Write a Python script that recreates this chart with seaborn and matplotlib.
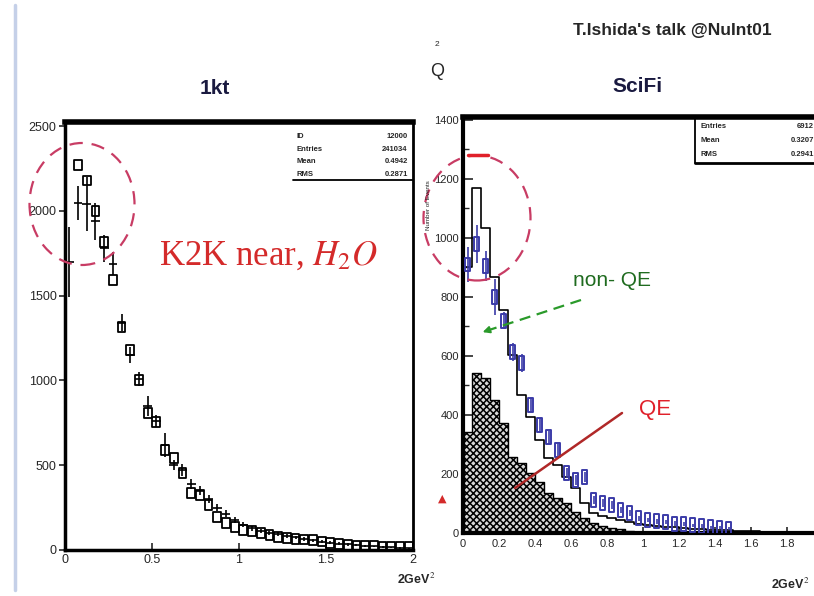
import numpy as np
import pandas as pd
import matplotlib
matplotlib.use("Agg")
import matplotlib.pyplot as plt
from matplotlib.patches import Ellipse
from matplotlib.lines import Line2D
from matplotlib.path import Path
import seaborn as sns

sns.set_theme(style="ticks")
plt.rcParams["font.family"] = ["Liberation Sans", "DejaVu Sans"]
plt.rcParams["mathtext.fontset"] = "stix"
plt.rcParams["hatch.linewidth"] = 1.1

# ---------------- 1kt water Cherenkov (left) ----------------
q2_1kt = [0.025, 0.075, 0.125, 0.175, 0.225, 0.275, 0.325, 0.375, 0.425, 0.475,
          0.525, 0.575, 0.625, 0.675, 0.725, 0.775, 0.825, 0.875, 0.925, 0.975,
          1.025, 1.075, 1.125, 1.175, 1.225, 1.275, 1.325, 1.375, 1.425, 1.475,
          1.525, 1.575, 1.625, 1.675, 1.725, 1.775, 1.825, 1.875, 1.925, 1.975]
mc_1kt = [np.nan, 2270, 2180, 2000, 1816, 1592, 1315, 1180, 1002, 808,
          755, 590, 542, 454, 336, 324, 265, 195, 160, 136,
          118, 110, 100, 90, 77, 72, 66, 62, 59, 50,
          42, 36, 29, 26, 24, 22, 20, 19, 18, 16]
data_1kt = [1700, 2046, 2040, 1940, 1780, 1690, 1340, 1150, 1010, 850,
            760, 620, 500, 470, 390, 350, 300, 250, 215, 175,
            150, 128, 112, 100, 92, 82, 74, 66, 58, 50,
            44, 38, 33, 28, 24, 21, 18, 15, 12, 10]
err_1kt = [205, 100, 160, 110, 80, 70, 50, 45, 40, 60,
           35, 70, 30, 35, 30, 25, 22, 20, 20, 18,
           16, 15, 14, 13, 12, 11, 10, 10, 9, 8,
           8, 7, 7, 6, 6, 5, 5, 5, 4, 4]
stats_1kt = [("ID", "12000"), ("Entries", "241034"), ("Mean", "0.4942"), ("RMS", "0.2871")]

# ---------------- SciFi (right) ----------------
q2_scifi = [0.025, 0.075, 0.125, 0.175, 0.225, 0.275, 0.325, 0.375, 0.425, 0.475,
            0.525, 0.575, 0.625, 0.675, 0.725, 0.775, 0.825, 0.875, 0.925, 0.975,
            1.025, 1.075, 1.125, 1.175, 1.225, 1.275, 1.325, 1.375, 1.425, 1.475,
            1.525, 1.575, 1.625, 1.675, 1.725, 1.775, 1.825, 1.875, 1.925, 1.975]
total_mc = [900, 1170, 1034, 868, 756, 603, 468, 393, 315, 254,
            230, 190, 152, 100, 68, 58, 50, 44, 38, 32,
            28, 25, 22, 19, 17, 15, 13, 11, 10, 9,
            8, 7, 6, 5, 5, 4, 4, 3, 3, 2]
qe_mc = [342, 542, 525, 450, 373, 258, 237, 205, 173, 136,
         120, 102, 71, 51, 34, 25, 18, 12, 8, 5,
         3, 2, 1, 1, 0, 0, 0, 0, 0, 0,
         0, 0, 0, 0, 0, 0, 0, 0, 0, 0]
data_scifi = [910, 980, 905, 800, 720, 613, 576, 434, 366, 325,
              281, 203, 180, 190, 112, 102, 95, 78, 68, 50,
              44, 40, 36, 32, 30, 26, 24, 20, 18, 15]
err_scifi = [60, 65, 50, 60, 30, 30, 30, 25, 25, 22,
             20, 18, 18, 18, 14, 13, 12, 11, 10, 9,
             8, 8, 7, 7, 6, 6, 6, 5, 5, 5]
stats_scifi = [("Entries", "6912"), ("Mean", "0.3207"), ("RMS", "0.2941")]

W, H = 814, 596
fig = plt.figure(figsize=(W / 100, H / 100), dpi=100)
fig.patch.set_facecolor("white")


def fx(px):
    return px / W


def fy(py):
    return (H - py) / H


def rect_marker(half_w):
    return Path([(-half_w, -1), (half_w, -1), (half_w, 1), (-half_w, 1), (-half_w, -1)],
                [Path.MOVETO, Path.LINETO, Path.LINETO, Path.LINETO, Path.CLOSEPOLY])


BW = 0.05

# ---- left axes ----
axL = fig.add_axes([fx(65), fy(550), (413 - 65) / W, (550 - 122) / H])
axL.errorbar(q2_1kt, data_1kt, xerr=BW / 2, yerr=err_1kt, fmt="none",
             ecolor="black", elinewidth=1.2, capsize=0)
sns.scatterplot(x=q2_1kt, y=mc_1kt, marker=rect_marker(0.8), s=50, facecolor="none",
                edgecolor="black", linewidth=1.3, ax=axL, zorder=3)
axL.set_xlim(0, 2)
axL.set_ylim(0, 2525)
axL.set_xticks([0, 0.5, 1, 1.5, 2])
axL.set_xticklabels(["0", "0.5", "1", "1.5", "2"])
axL.set_yticks([0, 500, 1000, 1500, 2000, 2500])
axL.tick_params(axis="y", direction="out", length=4, width=1.2, labelsize=9, pad=2)
axL.tick_params(axis="x", direction="in", length=5, width=1.2, labelsize=9, pad=3)
for side, lw in [("top", 4), ("left", 2.5), ("bottom", 2.5), ("right", 2)]:
    axL.spines[side].set_linewidth(lw)
    axL.spines[side].set_color("black")
axL.set_xlabel("")
axL.set_ylabel("")
axL.add_line(Line2D([0.655, 1.0], [0.864, 0.864], transform=axL.transAxes,
                    color="black", lw=1.3))
for i, (k, v) in enumerate(stats_1kt):
    yy = 0.975 - i * 0.03
    axL.text(0.665, yy, k, transform=axL.transAxes, fontsize=5.5,
             fontweight="bold", va="top", ha="left")
    axL.text(0.985, yy, v, transform=axL.transAxes, fontsize=5.5,
             fontweight="bold", va="top", ha="right")

# ---- right axes ----
axR = fig.add_axes([fx(463), fy(533), 360 / W, (533 - 117) / H])
edges_scifi = [round(c - BW / 2, 3) for c in q2_scifi] + [round(q2_scifi[-1] + BW / 2, 3)]
df_scifi = pd.DataFrame({"q2": q2_scifi, "qe": qe_mc, "total": total_mc})
sns.histplot(data=df_scifi, x="q2", weights="qe", bins=edges_scifi, element="step",
             fill=True, color="black", alpha=1, linewidth=1.0, ax=axR)
qe_poly = axR.collections[-1]
qe_poly.set_facecolor("#d8d8d8")
qe_poly.set_edgecolor("black")
qe_poly.set_hatch("xxxxx")
sns.histplot(data=df_scifi, x="q2", weights="total", bins=edges_scifi, element="step",
             fill=False, color="black", linewidth=1.2, ax=axR)
blue = "#3b3ba8"
n_d = len(data_scifi)
axR.errorbar(q2_scifi[:n_d], data_scifi, yerr=err_scifi, fmt="none",
             ecolor=blue, elinewidth=1.2, capsize=0)
sns.scatterplot(x=q2_scifi[:n_d], y=data_scifi, marker=rect_marker(0.35), s=100,
                facecolor="none", edgecolor=blue, linewidth=1.4, ax=axR, zorder=4)
axR.set_xlim(0, 2)
axR.set_ylim(0, 1410)
axR.set_xticks([0, 0.2, 0.4, 0.6, 0.8, 1, 1.2, 1.4, 1.6, 1.8])
axR.set_xticklabels(["0", "0.2", "0.4", "0.6", "0.8", "1", "1.2", "1.4", "1.6", "1.8"])
axR.set_yticks([0, 200, 400, 600, 800, 1000, 1200, 1400])
axR.set_yticks(list(range(100, 1400, 100)), minor=True)
axR.tick_params(axis="y", which="major", direction="in", length=7, width=1.2,
                labelsize=8, pad=3)
axR.tick_params(axis="y", which="minor", direction="in", length=4, width=1)
axR.tick_params(axis="x", direction="in", length=4, width=1.2, labelsize=8, pad=4)
for side, lw in [("top", 4), ("left", 3), ("bottom", 3), ("right", 2)]:
    axR.spines[side].set_linewidth(lw)
    axR.spines[side].set_color("black")
axR.set_xlabel("")
axR.set_ylabel("")
axR.add_line(Line2D([0.644, 0.644], [0.889, 1.0], transform=axR.transAxes,
                    color="black", lw=1.3))
axR.add_line(Line2D([0.644, 1.0], [0.889, 0.889], transform=axR.transAxes,
                    color="black", lw=2))
for i, (k, v) in enumerate(stats_scifi):
    yy = 0.985 - i * 0.033
    axR.text(0.66, yy, k, transform=axR.transAxes, fontsize=5.5,
             fontweight="bold", va="top", ha="left")
    axR.text(0.975, yy, v, transform=axR.transAxes, fontsize=5.5,
             fontweight="bold", va="top", ha="right")
fig.text(fx(428), fy(205), "Number of Events", rotation=90, fontsize=4.5,
         ha="center", va="center")

# ---- slide decoration and annotations ----
fig.add_artist(Line2D([fx(15), fx(15)], [fy(590), fy(5)], color="#c5d0e8", lw=2.5))
fig.text(fx(672), fy(30), "T.Ishida's talk @NuInt01", fontsize=12.5,
         fontweight="bold", ha="center", va="center")
fig.text(fx(215), fy(88), "1kt", fontsize=15, fontweight="bold",
         color="#1a1a40", ha="center", va="center")
fig.text(fx(637), fy(86), "SciFi", fontsize=15, fontweight="bold",
         color="#1a1a40", ha="center", va="center")
fig.text(fx(437), fy(72), "Q", fontsize=13, ha="center", va="center")
fig.text(fx(437), fy(45), "2", fontsize=6, ha="center", va="center")
fig.text(fx(268), fy(256), "K2K near, $H_2O$", fontsize=25, color="#d42a2a",
         family="Liberation Serif", ha="center", va="center")
fig.text(fx(612), fy(280), "non- QE", fontsize=15, color="#1f6b1f",
         ha="center", va="center")
fig.text(fx(655), fy(410), "QE", fontsize=16, color="#e0202a",
         ha="center", va="center")
fig.text(fx(416), fy(579), "2GeV$^2$", fontsize=9, fontweight="bold",
         ha="center", va="center")
fig.text(fx(790), fy(584), "2GeV$^2$", fontsize=9, fontweight="bold",
         ha="center", va="center")

circle_col = "#c83c64"
fig.add_artist(Ellipse((fx(82), fy(204)), 105 / W, 122 / H, fill=False,
                       edgecolor=circle_col, lw=1.6, ls=(0, (6, 4)),
                       transform=fig.transFigure))
fig.add_artist(Ellipse((fx(477), fy(218)), 107 / W, 125 / H, fill=False,
                       edgecolor=circle_col, lw=1.6, ls=(0, (6, 4)),
                       transform=fig.transFigure))
fig.add_artist(Line2D([fx(468), fx(488)], [fy(155), fy(155)], color="#e0202a", lw=2.5))

fig.add_artist(Line2D([fx(581), fx(486)], [fy(300), fy(331)], color="#2a9a2a",
                      lw=1.6, ls=(0, (5, 3))))
axR.annotate("", xy=(fx(480), fy(333)), xycoords="figure fraction",
             xytext=(fx(492), fy(329)), textcoords="figure fraction",
             arrowprops=dict(arrowstyle="-|>", color="#2a9a2a", lw=1.4,
                             mutation_scale=10))
fig.add_artist(Line2D([fx(622), fx(515)], [fy(413), fy(488)], color="#b02828",
                      lw=1.8))
fig.text(fx(442), fy(499), "\u25B2", fontsize=8, color="#d42a2a",
         ha="center", va="center", family="DejaVu Sans")

fig.savefig("out.png", dpi=100)
